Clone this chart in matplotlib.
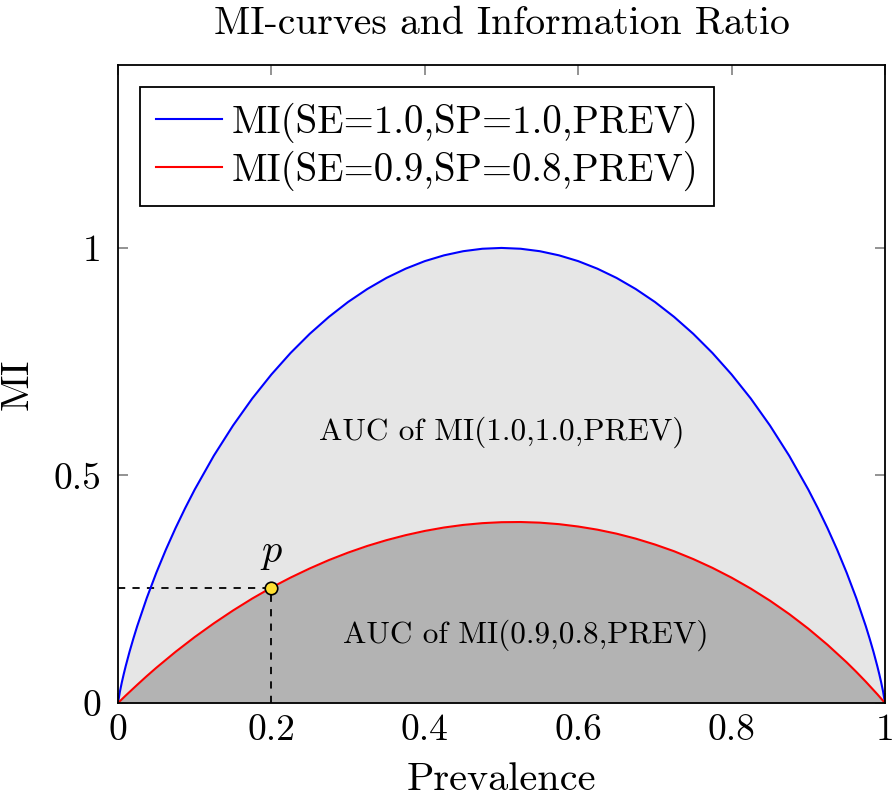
import matplotlib
matplotlib.use("Agg")
import matplotlib.pyplot as plt

plt.rcParams['font.family'] = 'cmr10'
plt.rcParams['mathtext.fontset'] = 'cm'
plt.rcParams['axes.formatter.use_mathtext'] = True
plt.rcParams['axes.unicode_minus'] = False

# MI(SE=1.0, SP=1.0, PREV)
prev_blue = [0, 0.0025, 0.005, 0.0075, 0.01, 0.015, 0.02, 0.025, 0.0375, 0.05, 0.0625,
             0.075, 0.0875, 0.1, 0.125, 0.15, 0.175, 0.2, 0.225, 0.25, 0.275, 0.3, 0.325,
             0.35, 0.375, 0.4, 0.425, 0.45, 0.475, 0.5, 0.525, 0.55, 0.575, 0.6, 0.625,
             0.65, 0.675, 0.7, 0.725, 0.75, 0.775, 0.8, 0.825, 0.85, 0.875, 0.9, 0.9125,
             0.925, 0.9375, 0.95, 0.9625, 0.975, 0.98, 0.985, 0.99, 0.9925, 0.995, 0.9975, 1]
mi_blue = [0, 0.0252, 0.0454, 0.0637, 0.0808, 0.1124, 0.1414, 0.1687, 0.2307, 0.2864,
           0.3373, 0.3843, 0.4280, 0.4690, 0.5436, 0.6098, 0.6691, 0.7219, 0.7692, 0.8113,
           0.8485, 0.8813, 0.9097, 0.9341, 0.9544, 0.9710, 0.9837, 0.9928, 0.9982, 1.0,
           0.9982, 0.9928, 0.9837, 0.9710, 0.9544, 0.9341, 0.9097, 0.8813, 0.8485, 0.8113,
           0.7692, 0.7219, 0.6691, 0.6098, 0.5436, 0.4690, 0.4280, 0.3843, 0.3373, 0.2864,
           0.2307, 0.1687, 0.1414, 0.1124, 0.0808, 0.0637, 0.0454, 0.0252, 0]

# MI(SE=0.9, SP=0.8, PREV)
prev_red = [0, 0.01, 0.025, 0.0375, 0.05, 0.075, 0.1, 0.125, 0.15, 0.175, 0.2, 0.225,
            0.25, 0.275, 0.3, 0.325, 0.35, 0.375, 0.4, 0.425, 0.45, 0.475, 0.5, 0.525,
            0.55, 0.575, 0.6, 0.625, 0.65, 0.675, 0.7, 0.725, 0.75, 0.775, 0.8, 0.825,
            0.85, 0.875, 0.9, 0.925, 0.95, 0.9625, 0.975, 0.99, 1]
mi_red = [0, 0.0163, 0.0399, 0.0591, 0.0775, 0.1124, 0.1449, 0.1751, 0.2033, 0.2295,
          0.2536, 0.2756, 0.2957, 0.3141, 0.3305, 0.3451, 0.3578, 0.3688, 0.3781, 0.3856,
          0.3913, 0.3952, 0.3973, 0.3977, 0.3963, 0.3930, 0.3878, 0.3809, 0.3721, 0.3612,
          0.3483, 0.3335, 0.3163, 0.2970, 0.2754, 0.2514, 0.2249, 0.1956, 0.1634, 0.1280,
          0.0894, 0.0686, 0.0468, 0.0193, 0]

point_x, point_y = 0.2, 0.2536

xticks = [0, 0.2, 0.4, 0.6, 0.8, 1]
xtick_labels = ['0', '0.2', '0.4', '0.6', '0.8', '1']
yticks = [0, 0.5, 1]
ytick_labels = ['0', '0.5', '1']

fig = plt.figure(figsize=(8.94, 7.99), dpi=100)
ax = fig.add_axes([118 / 894, 1 - 703 / 799, 767 / 894, 638 / 799])

ax.fill_between(prev_blue, 0, mi_blue, color='#e6e6e6', lw=0, zorder=1)
ax.fill_between(prev_red, 0, mi_red, color='#b3b3b3', lw=0, zorder=2)
ax.plot(prev_blue, mi_blue, color='#0000ff', lw=1.5, zorder=4,
        label='MI(SE=1.0,SP=1.0,PREV)')
ax.plot(prev_red, mi_red, color='#ff0000', lw=1.5, zorder=4,
        label='MI(SE=0.9,SP=0.8,PREV)')

ax.plot([0, point_x], [point_y, point_y], color='black', ls=(0, (4, 4)), lw=1.3, zorder=3)
ax.plot([point_x, point_x], [0, point_y], color='black', ls=(0, (4, 4)), lw=1.3, zorder=3)
ax.plot([point_x], [point_y], marker='o', ms=9, mfc='#ffe033', mec='black', mew=1.2,
        zorder=5, clip_on=False)
ax.text(point_x, 0.327, '$p$', fontsize=29, ha='center', va='center')

ax.text(0.5007, 0.596, 'AUC of MI(1.0,1.0,PREV)', fontsize=22.5, ha='center', va='center')
ax.text(0.532, 0.149, 'AUC of MI(0.9,0.8,PREV)', fontsize=22.5, ha='center', va='center')

ax.set_xlim(0, 1)
ax.set_ylim(0, 1.402)
ax.set_xticks(xticks)
ax.set_xticklabels(xtick_labels)
ax.set_yticks(yticks)
ax.set_yticklabels(ytick_labels)
ax.tick_params(direction='in', top=True, right=True, length=7, width=1.2,
               color='#808080', labelsize=27)
ax.tick_params(axis='x', pad=8)
ax.tick_params(axis='y', pad=12)
for s in ax.spines.values():
    s.set_linewidth(1.3)
    s.set_zorder(6)

ax.set_title('MI-curves and Information Ratio', fontsize=28.5, pad=22)
ax.set_xlabel('Prevalence', fontsize=29, labelpad=11)
ax.set_ylabel('MI', fontsize=29, labelpad=13)

leg = ax.legend(loc='upper left', bbox_to_anchor=(22 / 767, 1 - 22 / 638),
                borderaxespad=0, fontsize=28, fancybox=False, edgecolor='black',
                framealpha=1, handlelength=1.7, handletextpad=0.25,
                borderpad=0.4, labelspacing=0.2)
leg.get_frame().set_linewidth(1.3)

fig.savefig('out.png', dpi=100)
